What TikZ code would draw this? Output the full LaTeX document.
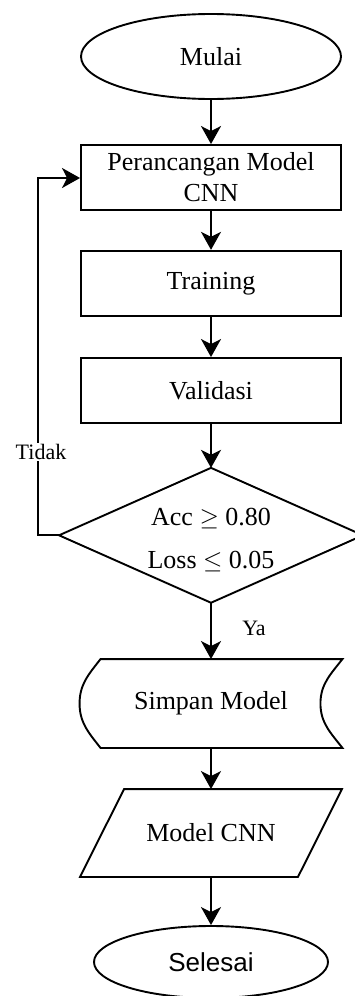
\documentclass[tikz,border=0pt]{standalone}
\usepackage{fontspec}
\setmainfont{Liberation Serif}
\newfontfamily\arialfont{Liberation Sans}
\usetikzlibrary{shapes.geometric,arrows.meta}
\begin{document}
\begin{tikzpicture}[x=1pt,y=-1pt,
  line width=1.9pt,
  every node/.style={font=\fontsize{26}{31}\selectfont},
  term/.style={draw,ellipse,inner sep=0pt},
  procbox/.style={draw,rectangle,minimum width=260pt,minimum height=65pt,inner sep=0pt,align=center},
  ghost/.style={rectangle,inner sep=0pt,align=center},
  arr/.style={-{Stealth[length=18pt,width=20pt,inset=5pt]}},
  lbl/.style={font=\fontsize{22}{26}\selectfont,inner sep=1pt}
]
\useasboundingbox (0,0) rectangle (354,996);
\node[term,minimum width=260pt,minimum height=85pt] (start) at (211,56.5) {Mulai};
\node[procbox] (design) at (211,177.5) {Perancangan Model\\[0pt]CNN};
\node[procbox] (train) at (211,283.3) {Training};
\node[procbox] (valid) at (211,390.5) {Validasi};
\node[ghost,minimum width=302pt,minimum height=133pt] (dec) at (211,535.3) {};
\draw (dec.north) -- (dec.east) -- (dec.south) -- (dec.west) -- cycle;
\node[ghost] (dectext) at (211,540) {Acc $\geq$ 0.80\\[12pt]Loss $\leq$ 0.05};
\node[ghost,minimum width=261pt,minimum height=87pt] (save) at (211,703.5) {Simpan Model};
\draw (save.north west) ++(21,0) coordinate (s1) -- (save.north east)
  to[out=-128,in=90] ([xshift=-22pt]save.east)
  to[out=-90,in=128] (save.south east)
  -- ([xshift=21pt]save.south west)
  to[out=128,in=-90] (save.west)
  to[out=90,in=-128] (s1) -- cycle;
\node[ghost,minimum width=260pt,minimum height=86pt] (out) at (211,833) {Model CNN};
\draw ([xshift=44pt]out.north west) -- (out.north east) -- ([xshift=-44pt]out.south east) -- (out.south west) -- cycle;
\node[term,minimum width=234pt,minimum height=72pt] (stop) at (211,962) {\arialfont Selesai};
\draw[arr] (start) -- (design);
\draw[arr] (design) -- (train);
\draw[arr] (train) -- (valid);
\draw[arr] (valid) -- (dec.north);
\draw[arr] (dec.south) -- (save.north);
\draw[arr] (save.south) -- (out.north);
\draw[arr] (out.south) -- (stop);
\coordinate (loopA) at (38,535.3);
\coordinate (loopB) at (38,178);
\draw[arr] (dec.west) -- (loopA) -- (loopB) -- (loopB -| design.west);
\node[lbl,fill=white] (tidak) at (41,452) {Tidak};
\node[lbl] (ya) at (254,628) {Ya};
\end{tikzpicture}
\end{document}
